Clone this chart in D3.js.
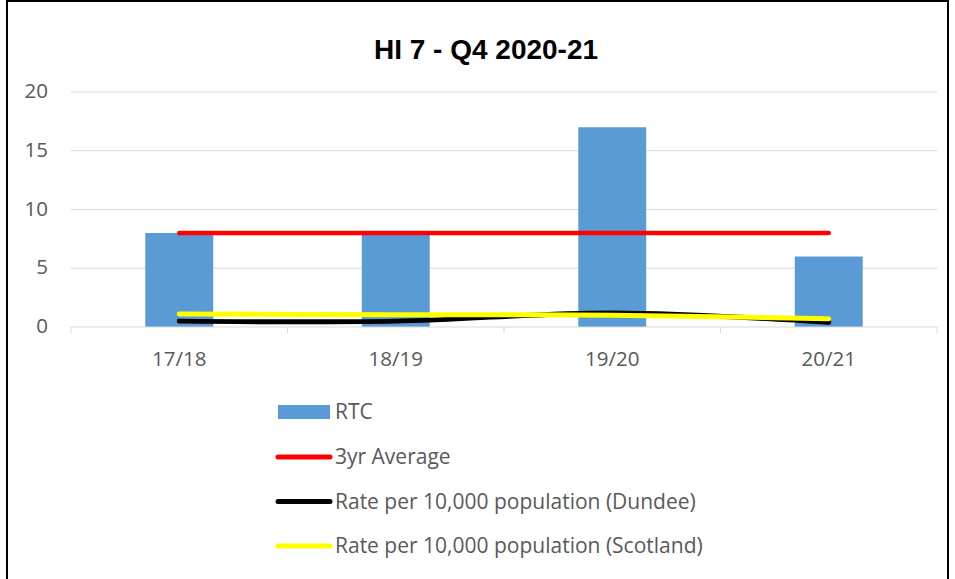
<!DOCTYPE html>
<html><head><meta charset="utf-8">
<script src="https://cdn.jsdelivr.net/npm/d3@7"></script>
<style>body{margin:0;background:#fff}</style>
</head><body>
<svg id="c" width="955" height="579"></svg>
<script>
const categories = ["17/18","18/19","19/20","20/21"];
const rtc = [8, 8, 17, 6];
const avg3yr = [8, 8, 8, 8];
const dundee = [0.5, 0.5, 1.2, 0.4];
const scotland = [1.1, 1.05, 1.0, 0.7];
const yTicks = [0, 5, 10, 15, 20];
const title = "HI 7 - Q4 2020-21";
const legendLabels = ["RTC","3yr Average","Rate per 10,000 population (Dundee)","Rate per 10,000 population (Scotland)"];

const svg = d3.select("#c");
const font = "Open Sans, Noto Sans, sans-serif";
const fs = 20.5;
svg.append("rect").attr("x",7).attr("y",1).attr("width",941).attr("height",590)
  .attr("fill","#fff").attr("stroke","#000").attr("stroke-width",2);

const x = d3.scaleBand().domain(categories).range([71,937]).paddingInner(0.686).paddingOuter(0.343);
const xb = d3.scaleBand().domain(categories).range([71,937]);
const y = d3.scaleLinear().domain([0,20]).range([327,92]);

svg.append("text").attr("x",486).attr("y",59).attr("text-anchor","middle")
  .attr("font-family","Liberation Sans, Arial, sans-serif")
  .attr("font-weight","bold").attr("font-size",28).attr("fill","#000").text(title);

// grid
const g = svg.append("g");
g.selectAll(".grid").data(yTicks.filter(d=>d>0)).join("line")
  .attr("x1",71).attr("x2",937).attr("y1",d=>y(d)).attr("y2",d=>y(d))
  .attr("stroke","#d9d9d9").attr("stroke-width",1);
// y labels
g.selectAll(".yl").data(yTicks).join("text")
  .attr("x",48).attr("y",d=>y(d)-1).attr("dy","0.35em").attr("text-anchor","end")
  .attr("font-family",font).attr("font-size",fs).attr("fill","#595959").text(d=>d);

// bars
g.selectAll(".bar").data(rtc).join("rect")
  .attr("x",(d,i)=>x(categories[i])).attr("width",x.bandwidth())
  .attr("y",d=>y(d)).attr("height",d=>y(0)-y(d)).attr("fill","#5b9bd5");

// x axis
g.append("line").attr("x1",71).attr("x2",937).attr("y1",y(0)).attr("y2",y(0)).attr("stroke","#d9d9d9").attr("stroke-width",1);
const bounds = categories.map(c=>xb(c)).concat([937]);
g.selectAll(".tk").data(bounds).join("line")
  .attr("x1",d=>d).attr("x2",d=>d).attr("y1",y(0)).attr("y2",y(0)+6)
  .attr("stroke","#d9d9d9").attr("stroke-width",1);
g.selectAll(".xl").data(categories).join("text")
  .attr("x",d=>xb(d)+xb.bandwidth()/2).attr("y",359).attr("dy","0.35em").attr("text-anchor","middle")
  .attr("font-family",font).attr("font-size",fs).attr("fill","#595959").text(d=>d);

const cx = (d,i)=>xb(categories[i])+xb.bandwidth()/2;
const straight = d3.line().x(cx).y(d=>y(d));
const smooth = d3.line().x(cx).y(d=>y(d)).curve(d3.curveCatmullRom.alpha(0.5));
g.append("path").attr("d",straight(avg3yr)).attr("fill","none").attr("stroke","#ff0000").attr("stroke-width",4.5).attr("stroke-linecap","round");
g.append("path").attr("d",smooth(dundee)).attr("fill","none").attr("stroke","#000").attr("stroke-width",5).attr("stroke-linecap","round");
g.append("path").attr("d",smooth(scotland)).attr("fill","none").attr("stroke","#ffff00").attr("stroke-width",5).attr("stroke-linecap","round");

// legend
const lg = svg.append("g");
const ly = [412, 457, 501.5, 546];
const colors = ["#5b9bd5","#ff0000","#000000","#ffff00"];
legendLabels.forEach((t,i)=>{
  if(i===0){
    lg.append("rect").attr("x",278).attr("y",ly[i]-7).attr("width",52).attr("height",14).attr("fill",colors[i]);
  } else {
    lg.append("line").attr("x1",278).attr("x2",330).attr("y1",ly[i]).attr("y2",ly[i])
      .attr("stroke",colors[i]).attr("stroke-width",5).attr("stroke-linecap","round");
  }
  lg.append("text").attr("x",335).attr("y",ly[i]).attr("dy","0.35em")
    .attr("font-family",font).attr("font-size",21).attr("fill","#595959").text(t);
});
</script>
</body></html>
